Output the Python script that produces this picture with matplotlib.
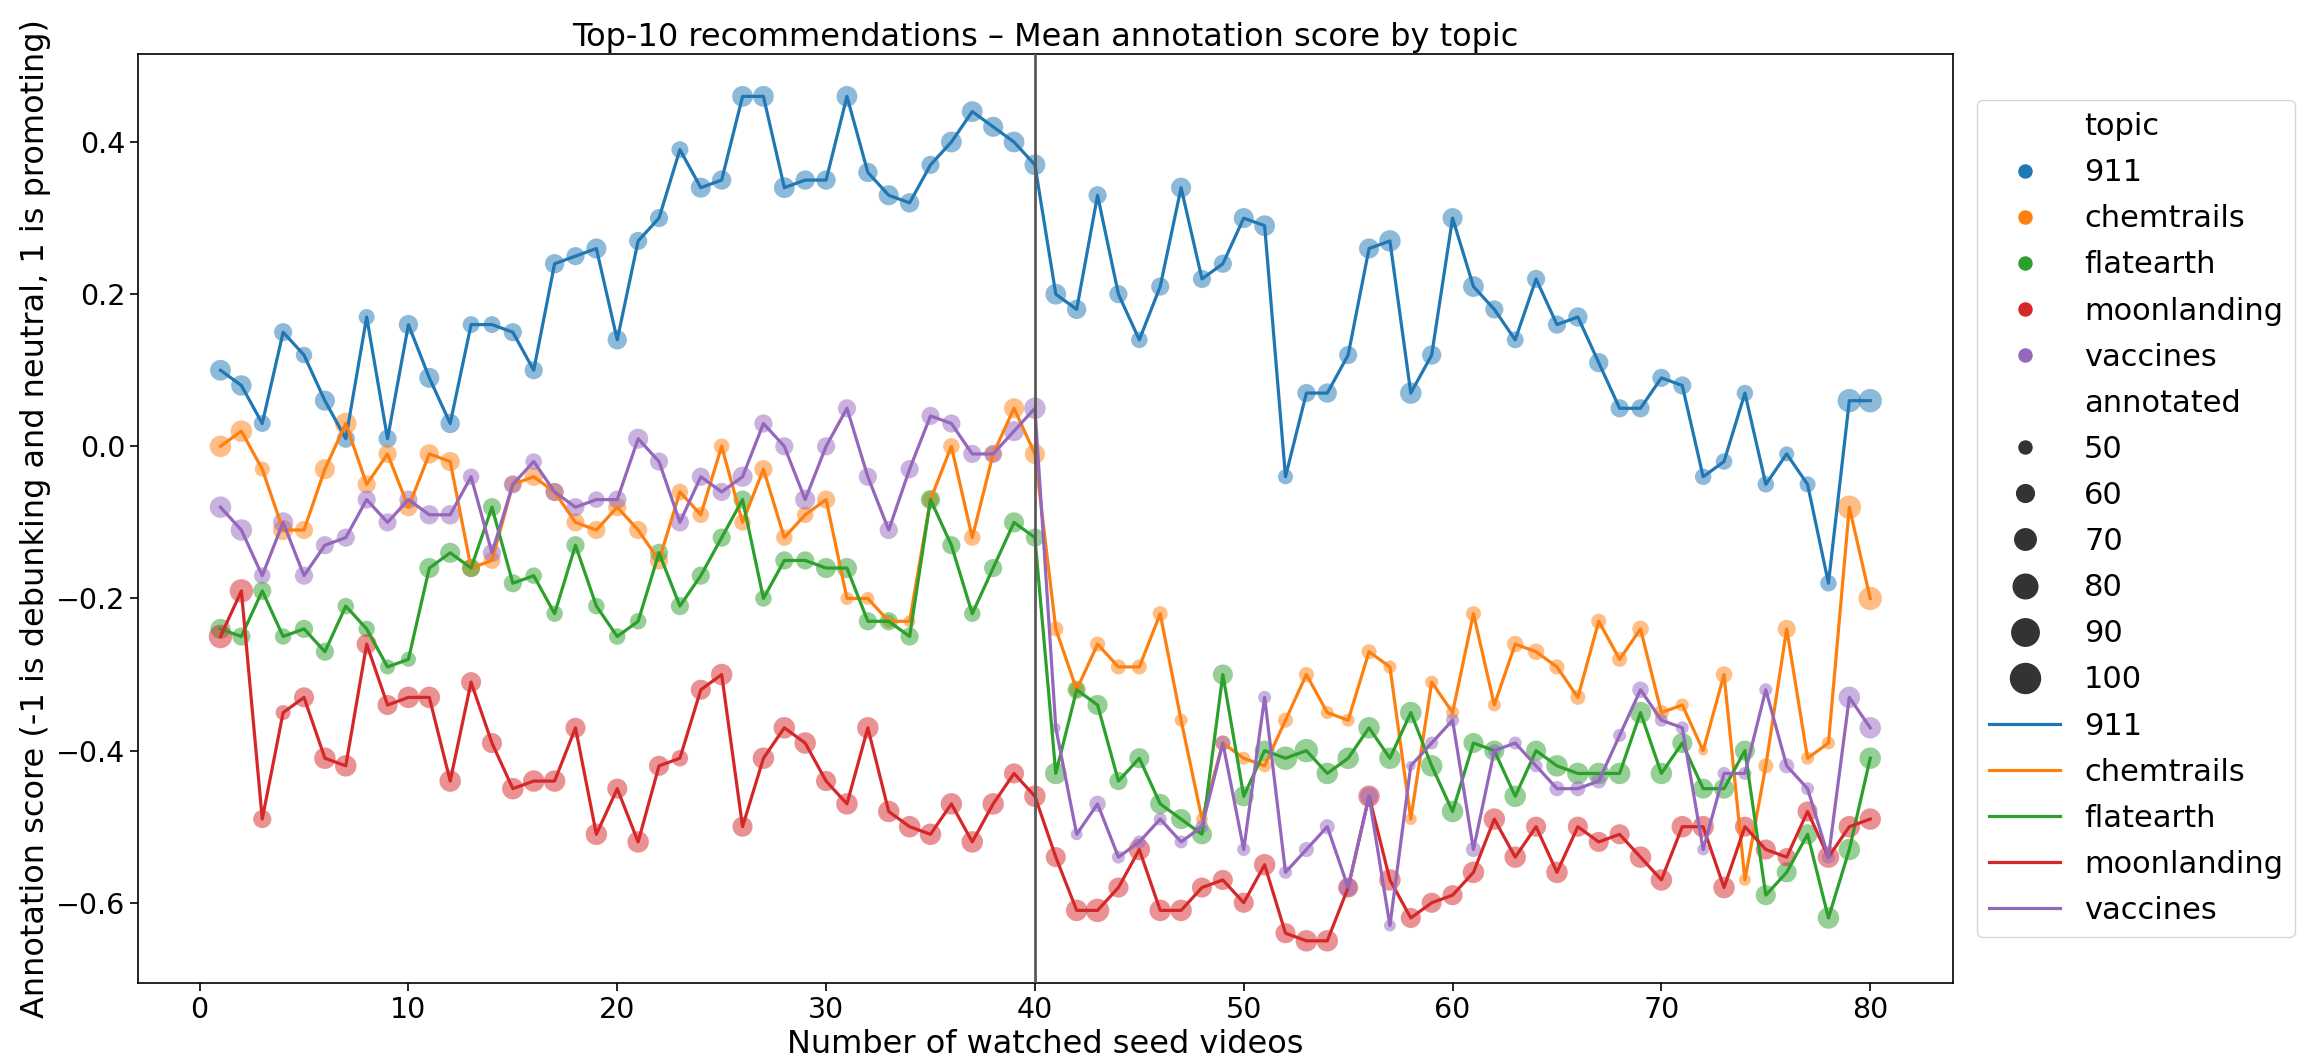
import matplotlib

matplotlib.use("Agg")
import matplotlib.pyplot as plt
import numpy as np
from matplotlib.lines import Line2D

plt.rcParams.update({"font.family": "DejaVu Sans", "font.size": 20.5})

topics = ["911", "chemtrails", "flatearth", "moonlanding", "vaccines"]
colors = ["#1f77b4", "#ff7f0e", "#2ca02c", "#d62728", "#9467bd"]
seed_videos = np.arange(1, 81)

score_911 = [
    0.10, 0.08, 0.03, 0.15, 0.12, 0.06, 0.01, 0.17, 0.01, 0.16,
    0.09, 0.03, 0.16, 0.16, 0.15, 0.10, 0.24, 0.25, 0.26, 0.14,
    0.27, 0.30, 0.39, 0.34, 0.35, 0.46, 0.46, 0.34, 0.35, 0.35,
    0.46, 0.36, 0.33, 0.32, 0.37, 0.40, 0.44, 0.42, 0.40, 0.37,
    0.20, 0.18, 0.33, 0.20, 0.14, 0.21, 0.34, 0.22, 0.24, 0.30,
    0.29, -0.04, 0.07, 0.07, 0.12, 0.26, 0.27, 0.07, 0.12, 0.30,
    0.21, 0.18, 0.14, 0.22, 0.16, 0.17, 0.11, 0.05, 0.05, 0.09,
    0.08, -0.04, -0.02, 0.07, -0.05, -0.01, -0.05, -0.18, 0.06, 0.06,
]
score_chemtrails = [
    0.00, 0.02, -0.03, -0.11, -0.11, -0.03, 0.03, -0.05, -0.01, -0.08,
    -0.01, -0.02, -0.16, -0.15, -0.05, -0.04, -0.06, -0.10, -0.11, -0.08,
    -0.11, -0.15, -0.06, -0.09, 0.00, -0.10, -0.03, -0.12, -0.09, -0.07,
    -0.20, -0.20, -0.23, -0.23, -0.07, 0.00, -0.12, -0.01, 0.05, -0.01,
    -0.24, -0.32, -0.26, -0.29, -0.29, -0.22, -0.36, -0.49, -0.39, -0.41,
    -0.42, -0.36, -0.30, -0.35, -0.36, -0.27, -0.29, -0.49, -0.31, -0.35,
    -0.22, -0.34, -0.26, -0.27, -0.29, -0.33, -0.23, -0.28, -0.24, -0.35,
    -0.34, -0.40, -0.30, -0.57, -0.42, -0.24, -0.41, -0.39, -0.08, -0.20,
]
score_flatearth = [
    -0.24, -0.25, -0.19, -0.25, -0.24, -0.27, -0.21, -0.24, -0.29, -0.28,
    -0.16, -0.14, -0.16, -0.08, -0.18, -0.17, -0.22, -0.13, -0.21, -0.25,
    -0.23, -0.14, -0.21, -0.17, -0.12, -0.07, -0.20, -0.15, -0.15, -0.16,
    -0.16, -0.23, -0.23, -0.25, -0.07, -0.13, -0.22, -0.16, -0.10, -0.12,
    -0.43, -0.32, -0.34, -0.44, -0.41, -0.47, -0.49, -0.51, -0.30, -0.46,
    -0.40, -0.41, -0.40, -0.43, -0.41, -0.37, -0.41, -0.35, -0.42, -0.48,
    -0.39, -0.40, -0.46, -0.40, -0.42, -0.43, -0.43, -0.43, -0.35, -0.43,
    -0.39, -0.45, -0.45, -0.40, -0.59, -0.56, -0.51, -0.62, -0.53, -0.41,
]
score_moonlanding = [
    -0.25, -0.19, -0.49, -0.35, -0.33, -0.41, -0.42, -0.26, -0.34, -0.33,
    -0.33, -0.44, -0.31, -0.39, -0.45, -0.44, -0.44, -0.37, -0.51, -0.45,
    -0.52, -0.42, -0.41, -0.32, -0.30, -0.50, -0.41, -0.37, -0.39, -0.44,
    -0.47, -0.37, -0.48, -0.50, -0.51, -0.47, -0.52, -0.47, -0.43, -0.46,
    -0.54, -0.61, -0.61, -0.58, -0.53, -0.61, -0.61, -0.58, -0.57, -0.60,
    -0.55, -0.64, -0.65, -0.65, -0.58, -0.46, -0.57, -0.62, -0.60, -0.59,
    -0.56, -0.49, -0.54, -0.50, -0.56, -0.50, -0.52, -0.51, -0.54, -0.57,
    -0.50, -0.50, -0.58, -0.50, -0.53, -0.54, -0.48, -0.54, -0.50, -0.49,
]
score_vaccines = [
    -0.08, -0.11, -0.17, -0.10, -0.17, -0.13, -0.12, -0.07, -0.10, -0.07,
    -0.09, -0.09, -0.04, -0.14, -0.05, -0.02, -0.06, -0.08, -0.07, -0.07,
    0.01, -0.02, -0.10, -0.04, -0.06, -0.04, 0.03, 0.00, -0.07, 0.00,
    0.05, -0.04, -0.11, -0.03, 0.04, 0.03, -0.01, -0.01, 0.02, 0.05,
    -0.37, -0.51, -0.47, -0.54, -0.52, -0.49, -0.52, -0.50, -0.39, -0.53,
    -0.33, -0.56, -0.53, -0.50, -0.58, -0.46, -0.63, -0.42, -0.39, -0.36,
    -0.53, -0.40, -0.39, -0.42, -0.45, -0.45, -0.44, -0.38, -0.32, -0.36,
    -0.37, -0.53, -0.43, -0.43, -0.32, -0.42, -0.45, -0.54, -0.33, -0.37,
]

# number of annotated videos per point (marker size)
annot_911 = [
    68, 67, 58, 61, 57, 66, 61, 56, 61, 64, 66, 64, 58, 58, 61, 61, 64, 61, 66, 64,
    61, 61, 58, 66, 64, 68, 68, 68, 64, 64, 68, 64, 66, 64, 61, 68, 68, 66, 68, 68,
    68, 64, 61, 61, 57, 61, 66, 61, 61, 66, 68, 54, 61, 64, 61, 66, 70, 70, 64, 66,
    68, 61, 58, 61, 61, 64, 64, 61, 61, 61, 61, 57, 57, 57, 57, 54, 56, 57, 76, 76,
]
annot_chemtrails = [
    70, 70, 54, 66, 61, 66, 70, 61, 61, 61, 64, 64, 61, 58, 57, 61, 61, 61, 61, 61,
    61, 61, 57, 57, 55, 57, 61, 57, 57, 61, 50, 50, 50, 48, 57, 57, 57, 57, 66, 66,
    54, 54, 54, 54, 54, 54, 50, 48, 54, 50, 50, 54, 54, 50, 50, 54, 50, 48, 50, 50,
    54, 50, 57, 57, 54, 54, 54, 54, 57, 54, 50, 45, 57, 48, 54, 61, 50, 50, 76, 76,
]
annot_flatearth = [
    66, 61, 61, 57, 61, 61, 57, 57, 54, 54, 66, 66, 61, 61, 61, 57, 57, 61, 57, 57,
    57, 61, 61, 61, 61, 61, 57, 61, 61, 66, 66, 61, 61, 61, 64, 61, 57, 61, 66, 61,
    70, 61, 66, 61, 66, 66, 66, 66, 66, 66, 66, 76, 76, 70, 70, 70, 70, 70, 70, 70,
    66, 66, 70, 66, 70, 70, 70, 70, 70, 70, 66, 66, 66, 66, 66, 66, 66, 70, 70, 70,
]
annot_moonlanding = [
    76, 76, 61, 54, 66, 70, 70, 66, 66, 70, 70, 70, 66, 66, 70, 70, 70, 66, 70, 66,
    70, 66, 57, 66, 70, 66, 70, 70, 70, 66, 70, 70, 70, 70, 70, 70, 70, 70, 66, 70,
    66, 70, 76, 66, 70, 70, 70, 66, 66, 66, 70, 66, 70, 70, 66, 70, 70, 66, 66, 66,
    70, 70, 70, 66, 70, 66, 66, 66, 70, 70, 70, 70, 70, 66, 66, 61, 66, 70, 70, 70,
]
annot_vaccines = [
    70, 70, 57, 66, 61, 61, 61, 61, 61, 61, 64, 64, 57, 61, 61, 57, 61, 61, 57, 61,
    66, 61, 61, 61, 61, 66, 61, 61, 66, 61, 61, 61, 61, 61, 61, 61, 61, 61, 66, 70,
    45, 48, 57, 50, 50, 50, 50, 50, 54, 50, 50, 50, 54, 54, 61, 61, 48, 45, 50, 50,
    54, 50, 50, 50, 54, 54, 54, 50, 57, 50, 50, 48, 50, 50, 50, 54, 50, 50, 70, 70,
]

size_levels = [50, 60, 70, 80, 90, 100]

scores = [score_911, score_chemtrails, score_flatearth, score_moonlanding, score_vaccines]
annots = [annot_911, annot_chemtrails, annot_flatearth, annot_moonlanding, annot_vaccines]


def marker_area(a):
    return 88 + 7.57 * (np.asarray(a, float) - 50)


fig = plt.figure(figsize=(23, 10.64), dpi=100)
ax = fig.add_axes([0.060, 0.0761, 0.789, 0.873])

for topic, col, y, a in zip(topics, colors, scores, annots):
    ax.scatter(seed_videos, y, s=marker_area(a), color=col, alpha=0.5, linewidths=0, zorder=2)
for topic, col, y in zip(topics, colors, scores):
    ax.plot(seed_videos, y, color=col, linewidth=2.3, zorder=3)

ax.axvline(40, color="0.35", linewidth=2, zorder=4)

ax.set_xticks(np.arange(0, 81, 10))
ax.set_yticks([-0.6, -0.4, -0.2, 0.0, 0.2, 0.4])
ax.tick_params(width=1.2, length=5.5, labelsize=20.5)
for sp in ax.spines.values():
    sp.set_linewidth(1.2)

ax.set_title("Top-10 recommendations \u2013 Mean annotation score by topic", fontsize=23)
ax.set_xlabel("Number of watched seed videos", fontsize=23, labelpad=4)
ax.set_ylabel("Annotation score (-1 is debunking and neutral, 1 is promoting)", fontsize=23)

# seaborn style legend: hue dots, size dots, then line entries
blank = Line2D([], [], linestyle="", marker="")
handles = [blank]
labels = ["topic"]
for topic, col in zip(topics, colors):
    handles.append(Line2D([], [], linestyle="", marker="o", markersize=9.4, color=col))
    labels.append(topic)
handles.append(blank)
labels.append("annotated")
for lv in size_levels:
    handles.append(Line2D([], [], linestyle="", marker="o", color="0.2",
                          markersize=np.sqrt(marker_area(lv))))
    labels.append(str(lv))
for topic, col in zip(topics, colors):
    handles.append(Line2D([], [], color=col, linewidth=2.3))
    labels.append(topic)

ax.legend(handles, labels, loc="center left", bbox_to_anchor=(1.0, 0.5),
          borderaxespad=0.8, fontsize=22, handlelength=2.3, handletextpad=0.8,
          labelspacing=0.56)

fig.savefig("out.png", dpi=100)
